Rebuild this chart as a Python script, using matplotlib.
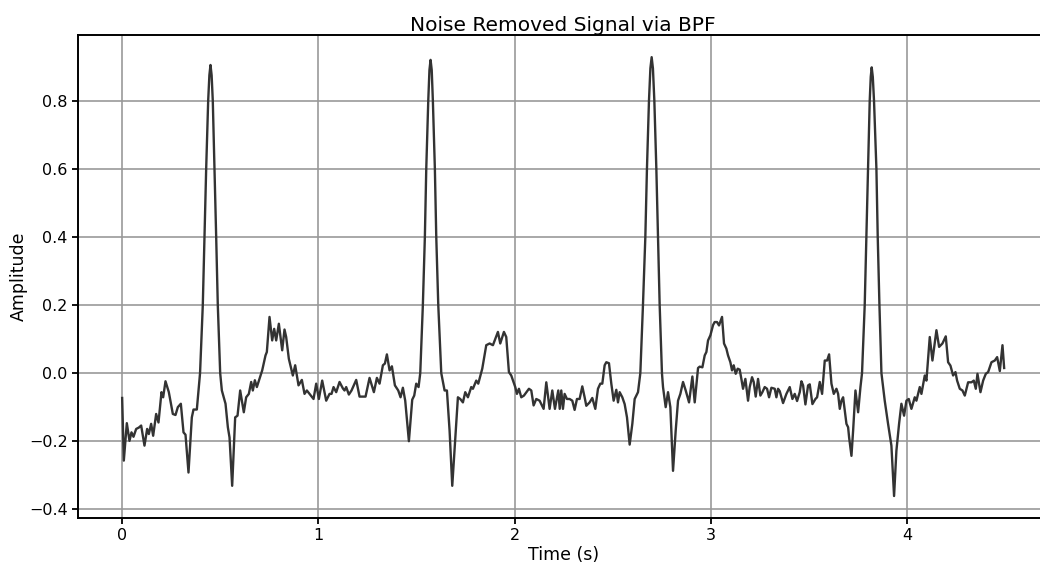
import matplotlib
matplotlib.use("Agg")
import matplotlib.pyplot as plt

time_s = [
    0.000, 0.0085, 0.0238, 0.0374, 0.0476, 0.0578, 0.0714, 0.085, 0.0969, 0.1138,
    0.1274, 0.136, 0.1478, 0.158, 0.1733, 0.1852, 0.2005, 0.209, 0.2209, 0.2379,
    0.2583, 0.2719, 0.2838, 0.2991, 0.3127, 0.3229, 0.3381, 0.3551, 0.3636, 0.3806,
    0.397, 0.411, 0.4196, 0.4282, 0.4384, 0.4445, 0.4502, 0.4560, 0.4619, 0.4706,
    0.4792, 0.4874, 0.4996,
    0.5081, 0.5268, 0.5387, 0.5472, 0.5607, 0.576, 0.588, 0.6015, 0.620, 0.632,
    0.6457, 0.6576, 0.666, 0.6763, 0.6865, 0.7137,
    0.7306, 0.7374, 0.7510, 0.7646, 0.7748, 0.7850, 0.7986, 0.8156, 0.8274, 0.8359,
    0.8495, 0.8699, 0.8818, 0.8988, 0.9158, 0.9294, 0.9413, 0.9549, 0.9753, 0.9889,
    1.0025, 1.0195, 1.0399, 1.0569, 1.0671, 1.0773, 1.0909, 1.1079, 1.125, 1.1333,
    1.1418, 1.1554, 1.1690, 1.1928, 1.2098, 1.2404, 1.2608, 1.2829, 1.2982, 1.3118,
    1.3288, 1.3390, 1.3492, 1.3628, 1.3747, 1.3900, 1.4070, 1.4188, 1.4307, 1.4426,
    1.4613, 1.4783, 1.4885, 1.4987, 1.5106,
    1.5192, 1.5325, 1.5427, 1.5498, 1.5600, 1.5660, 1.5718, 1.5777, 1.5835, 1.5937,
    1.6008, 1.6110, 1.6263,
    1.6432, 1.6551, 1.6687, 1.6823, 1.7111, 1.7230, 1.7366, 1.7485, 1.7621, 1.7791,
    1.7876, 1.8046, 1.8148, 1.8352, 1.8556, 1.8726, 1.8896, 1.9150, 1.9269, 1.9456,
    1.9575, 1.9711, 1.9830, 2.0034, 2.0119, 2.0221, 2.0340, 2.0476, 2.0731, 2.0850,
    2.0969, 2.1105, 2.1275, 2.1479, 2.1615, 2.1785, 2.1921, 2.2057, 2.2227, 2.2300,
    2.2379, 2.2464, 2.2549, 2.2668, 2.2804, 2.2940, 2.3059, 2.3178, 2.3314, 2.3450,
    2.3569, 2.3654, 2.3824, 2.3960, 2.4113, 2.4249, 2.4368, 2.4470, 2.4589, 2.4674,
    2.4810, 2.4929, 2.5048, 2.5184, 2.5269, 2.5354, 2.5490, 2.5609, 2.5728, 2.5864,
    2.6000, 2.6119, 2.6289,
    2.6408, 2.6542, 2.6663, 2.6745, 2.6848, 2.6920, 2.6985, 2.7050, 2.7122, 2.7224,
    2.7306, 2.7393, 2.7510,
    2.7564, 2.7700, 2.7819, 2.7938, 2.8074, 2.8210, 2.8329, 2.8448, 2.8584, 2.8720,
    2.8890, 2.9060, 2.9179, 2.9349, 2.9434, 2.9570, 2.9689, 2.9774, 2.9859, 2.9978,
    3.0114, 3.0197, 3.0316, 3.0418, 3.0571, 3.0673, 3.0792, 3.0877, 3.0996, 3.1081,
    3.1166, 3.1268, 3.1370, 3.1472, 3.1557, 3.1642, 3.1761, 3.1897, 3.1982, 3.2101,
    3.2186, 3.2288, 3.2407, 3.2526, 3.2628, 3.2747, 3.2866, 3.2968, 3.3087, 3.3257,
    3.3342, 3.3427, 3.3512, 3.3682, 3.3852, 3.4022, 3.4158, 3.4277, 3.4396, 3.4532,
    3.4617, 3.4702, 3.4821, 3.4957, 3.5042, 3.5178, 3.5331, 3.5416, 3.5552, 3.5671,
    3.5807, 3.5926, 3.6028, 3.6147, 3.6266, 3.6402, 3.6487, 3.6572, 3.6657, 3.6742,
    3.6827, 3.6912, 3.6997, 3.7048, 3.7167, 3.7252, 3.7371, 3.7507, 3.7626,
    3.7706, 3.7843, 3.7930, 3.8012, 3.8098, 3.8150, 3.8199, 3.8255, 3.8317, 3.8439,
    3.8506, 3.8593, 3.8695,
    3.8863, 3.9033, 3.9203, 3.9339, 3.9458, 3.9594, 3.9713, 3.9849, 3.9968, 4.0087,
    4.0223, 4.0393, 4.0478, 4.0648, 4.0733, 4.0903, 4.0988, 4.1158, 4.1294, 4.1498,
    4.1634, 4.1804, 4.1974, 4.2093, 4.2212, 4.2348, 4.2467, 4.2552, 4.2688, 4.2824,
    4.2943, 4.3113, 4.3283, 4.3402, 4.3504, 4.3589, 4.3742, 4.3878, 4.4014, 4.4133,
    4.4303, 4.4473, 4.4592, 4.4728, 4.4864, 4.4949,
]

amplitude = [
    -0.073, -0.257, -0.147, -0.199, -0.174, -0.187, -0.164, -0.160, -0.154, -0.213,
    -0.164, -0.179, -0.149, -0.184, -0.120, -0.145, -0.056, -0.071, -0.024, -0.056,
    -0.120, -0.123, -0.100, -0.090, -0.174, -0.181, -0.292, -0.130, -0.107, -0.107,
    0.0, 0.2, 0.4, 0.6, 0.8, 0.875, 0.905, 0.875, 0.8, 0.6,
    0.4, 0.2, 0.0,
    -0.051, -0.090, -0.159, -0.189, -0.331, -0.130, -0.125, -0.051, -0.115, -0.071,
    -0.061, -0.026, -0.051, -0.021, -0.041, 0.008,
    0.052, 0.062, 0.165, 0.096, 0.130, 0.096, 0.145, 0.067, 0.128, 0.106,
    0.042, -0.007, 0.023, -0.036, -0.020, -0.061, -0.051, -0.061, -0.076, -0.031,
    -0.076, -0.022, -0.081, -0.061, -0.061, -0.041, -0.056, -0.026, -0.045, -0.051,
    -0.041, -0.063, -0.051, -0.020, -0.069, -0.069, -0.014, -0.056, -0.014, -0.031,
    0.023, 0.028, 0.055, 0.008, 0.020, -0.036, -0.051, -0.071, -0.043, -0.081,
    -0.200, -0.078, -0.066, -0.031, -0.041,
    0.0, 0.2, 0.4, 0.6, 0.8, 0.89, 0.920, 0.89, 0.8, 0.6,
    0.4, 0.2, 0.0,
    -0.051, -0.051, -0.169, -0.331, -0.071, -0.076, -0.086, -0.056, -0.071, -0.041,
    -0.046, -0.022, -0.031, 0.013, 0.082, 0.087, 0.082, 0.121, 0.087, 0.121,
    0.106, 0.003, -0.007, -0.041, -0.061, -0.046, -0.071, -0.066, -0.046, -0.051,
    -0.095, -0.076, -0.081, -0.105, -0.027, -0.105, -0.051, -0.105, -0.051, -0.105,
    -0.051, -0.105, -0.061, -0.076, -0.076, -0.081, -0.108, -0.076, -0.076, -0.039,
    -0.071, -0.096, -0.086, -0.073, -0.105, -0.046, -0.031, -0.031, 0.023, 0.032,
    0.029, -0.031, -0.081, -0.049, -0.086, -0.056, -0.071, -0.091, -0.130, -0.210,
    -0.149, -0.076, -0.056,
    0.0, 0.2, 0.4, 0.6, 0.8, 0.895, 0.928, 0.895, 0.8, 0.6,
    0.4, 0.2, 0.0,
    -0.041, -0.100, -0.056, -0.100, -0.287, -0.169, -0.081, -0.061, -0.026, -0.051,
    -0.086, -0.010, -0.086, 0.015, 0.019, 0.017, 0.052, 0.062, 0.096, 0.111,
    0.141, 0.150, 0.150, 0.140, 0.165, 0.087, 0.072, 0.052, 0.032, 0.008,
    0.023, -0.002, 0.013, 0.010, -0.017, -0.046, -0.017, -0.081, -0.041, -0.012,
    -0.026, -0.069, -0.017, -0.066, -0.056, -0.041, -0.046, -0.071, -0.043, -0.046,
    -0.071, -0.046, -0.053, -0.088, -0.061, -0.041, -0.076, -0.061, -0.082, -0.056,
    -0.024, -0.036, -0.092, -0.036, -0.033, -0.091, -0.076, -0.071, -0.026, -0.061,
    0.037, 0.037, 0.055, -0.031, -0.061, -0.046, -0.061, -0.105, -0.081, -0.071,
    -0.110, -0.149, -0.159, -0.189, -0.243, -0.169, -0.051, -0.115, -0.041,
    0.0, 0.2, 0.4, 0.6, 0.8, 0.87, 0.898, 0.87, 0.8, 0.6,
    0.4, 0.2, 0.0,
    -0.081, -0.149, -0.213, -0.361, -0.228, -0.149, -0.090, -0.125, -0.081, -0.076,
    -0.105, -0.071, -0.081, -0.041, -0.061, -0.007, -0.022, 0.106, 0.037, 0.126,
    0.077, 0.087, 0.108, 0.032, 0.022, -0.007, 0.003, -0.022, -0.046, -0.051,
    -0.066, -0.027, -0.027, -0.022, -0.046, -0.002, -0.056, -0.022, -0.002, 0.003,
    0.032, 0.037, 0.047, 0.006, 0.082, 0.015,
]

x_ticks = [0, 1, 2, 3, 4]
y_ticks = [-0.4, -0.2, 0.0, 0.2, 0.4, 0.6, 0.8]

fig = plt.figure(figsize=(10.4, 5.64), dpi=100)
ax = fig.add_axes([0.075, 0.0816, 0.933, 0.856])
ax.plot(time_s, amplitude, color="#333333", linewidth=1.7, zorder=3)
ax.set_xlim(-0.225, 4.72)
ax.set_ylim(-0.4255, 0.9925)
ax.set_xticks(x_ticks)
ax.set_yticks(y_ticks)
ax.grid(True, color="#999999", linewidth=1.2)
ax.set_axisbelow(True)
for s in ax.spines.values():
    s.set_linewidth(1.4)
ax.tick_params(labelsize=11.5, width=1.3, length=4)
ax.set_title("Noise Removed Signal via BPF", fontsize=14.5, pad=3)
ax.set_xlabel("Time (s)", fontsize=12.5, labelpad=2)
ax.set_ylabel("Amplitude", fontsize=12.5, labelpad=1)

fig.savefig("out.png", dpi=100)
